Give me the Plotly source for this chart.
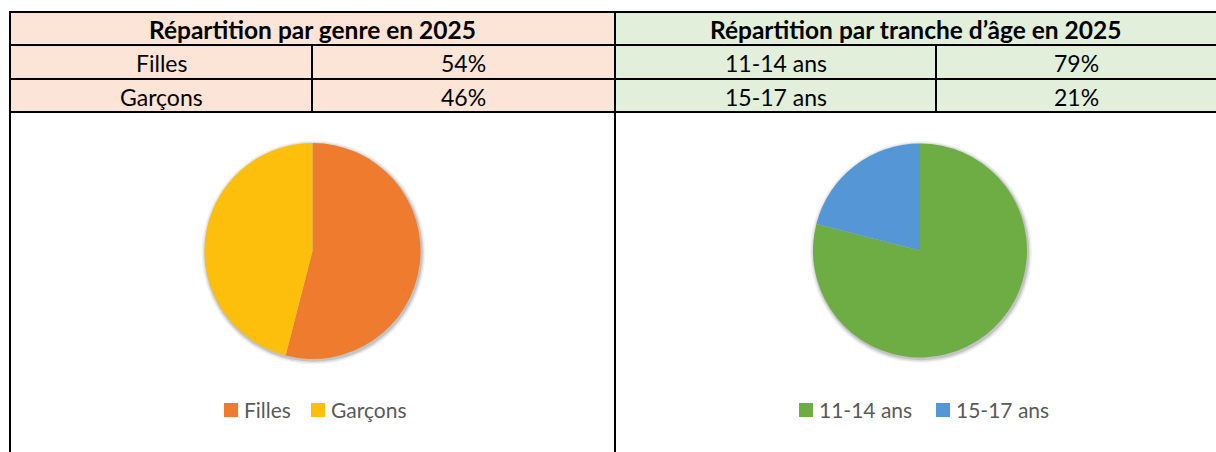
import plotly.graph_objects as go

# ---- data ----
genre_title = "Répartition par genre en 2025"
genre_labels = ["Filles", "Garçons"]
genre_values = [54, 46]

age_title = "Répartition par tranche d’âge en 2025"
age_labels = ["11-14 ans", "15-17 ans"]
age_values = [79, 21]

# ---- styling ----
W, H = 1216, 452
FONT = "Lato, Calibri, 'Open Sans', sans-serif"
PEACH = "#FCE4D6"
MINT = "#E2EFDA"
genre_colors = ["#EF7B2F", "#FDBF0B"]
age_colors = ["#6EAD44", "#5597D6"]

# column edges in pixels
X_LEFT, X_MID_L, X_SPLIT, X_MID_R, X_RIGHT = 10, 312, 615, 936, 1216
Y_TOP, Y_R1, Y_R2, Y_BOT = 12, 45, 79, 112

# legend swatch left edges (pixels) and row centre
LEG_Y = 410
genre_leg_x = [224, 311]
age_leg_x = [799, 936]
SW = 14


def px(x):
    return x / W


def py(y):
    return 1 - y / H


fig = go.Figure()

shapes = []
annotations = []


def rect(x0, y0, x1, y1, fill, layer="below"):
    shapes.append(dict(type="rect", xref="paper", yref="paper",
                       x0=px(x0), x1=px(x1), y0=py(y1), y1=py(y0),
                       fillcolor=fill, line=dict(width=0), layer=layer))


def line(x0, y0, x1, y1):
    shapes.append(dict(type="line", xref="paper", yref="paper",
                       x0=px(x0), x1=px(x1), y0=py(y0), y1=py(y1),
                       line=dict(color="black", width=2), layer="above"))


def text(x, y, s, bold=False, size=23, color="#000000", anchor="center"):
    annotations.append(dict(xref="paper", yref="paper", x=px(x), y=py(y),
                            text=f"<b>{s}</b>" if bold else s,
                            showarrow=False, xanchor=anchor, yanchor="middle",
                            font=dict(family=FONT, size=size, color=color)))


# table fills
rect(X_LEFT, Y_TOP, X_SPLIT, Y_BOT, PEACH)
rect(X_SPLIT, Y_TOP, X_RIGHT, Y_BOT, MINT)

# horizontal rules
for y in (Y_TOP, Y_R1, Y_R2, Y_BOT):
    line(X_LEFT - 1, y, X_RIGHT, y)
# vertical rules
line(X_LEFT, Y_TOP, X_LEFT, H)
line(X_SPLIT, Y_TOP, X_SPLIT, H)
line(X_MID_L, Y_R1, X_MID_L, Y_BOT)
line(X_MID_R, Y_R1, X_MID_R, Y_BOT)

# headers
text((X_LEFT + X_SPLIT) / 2, (Y_TOP + Y_R1) / 2 + 1, genre_title, bold=True,
     size=24.5)
text((X_SPLIT + X_RIGHT) / 2, (Y_TOP + Y_R1) / 2 + 1, age_title, bold=True,
     size=24.5)

# rows
row_mids = [(Y_R1 + Y_R2) / 2 + 1, (Y_R2 + Y_BOT) / 2 + 1]
for i, ym in enumerate(row_mids):
    text((X_LEFT + X_MID_L) / 2, ym, genre_labels[i])
    text((X_MID_L + X_SPLIT) / 2, ym, f"{genre_values[i]}%")
    text((X_SPLIT + X_MID_R) / 2, ym, age_labels[i])
    text((X_MID_R + X_RIGHT) / 2, ym, f"{age_values[i]}%")


def pie_domain(cx, cy, r):
    return dict(x=[px(cx - r), px(cx + r)], y=[py(cy + r), py(cy - r)])


# soft drop shadow behind each pie
for cx, cy, r in ((312.5, 251, 108), (920, 250.5, 107)):
    for k, op in ((4, 0.05), (2.5, 0.08), (1.2, 0.12)):
        shapes.append(dict(type="circle", xref="paper", yref="paper",
                           x0=px(cx - r - k + 1), x1=px(cx + r + k + 1),
                           y0=py(cy + r + k + 1.5), y1=py(cy - r - k + 1.5),
                           fillcolor=f"rgba(0,0,0,{op})", line=dict(width=0),
                           layer="below"))

fig.add_trace(go.Pie(
    labels=genre_labels, values=genre_values, sort=False,
    direction="clockwise", rotation=0,
    marker=dict(colors=genre_colors, line=dict(width=0)),
    textinfo="none", domain=pie_domain(312.5, 251, 108),
    showlegend=False,
))
fig.add_trace(go.Pie(
    labels=age_labels, values=age_values, sort=False,
    direction="clockwise", rotation=0,
    marker=dict(colors=age_colors, line=dict(width=0)),
    textinfo="none", domain=pie_domain(920, 250.5, 107),
    showlegend=False,
))

# legends: coloured swatch + label for every slice
for labels, colors, xs in ((genre_labels, genre_colors, genre_leg_x),
                           (age_labels, age_colors, age_leg_x)):
    for lab, col, x0 in zip(labels, colors, xs):
        rect(x0, LEG_Y - SW / 2, x0 + SW, LEG_Y + SW / 2, col, layer="above")
        text(x0 + SW + 4, LEG_Y - 1, lab, size=21, color="#595959",
             anchor="left")

fig.update_layout(
    width=W, height=H,
    margin=dict(l=0, r=0, t=0, b=0),
    paper_bgcolor="white", plot_bgcolor="white",
    shapes=shapes, annotations=annotations,
    showlegend=False,
)

fig.write_html("out.html")
